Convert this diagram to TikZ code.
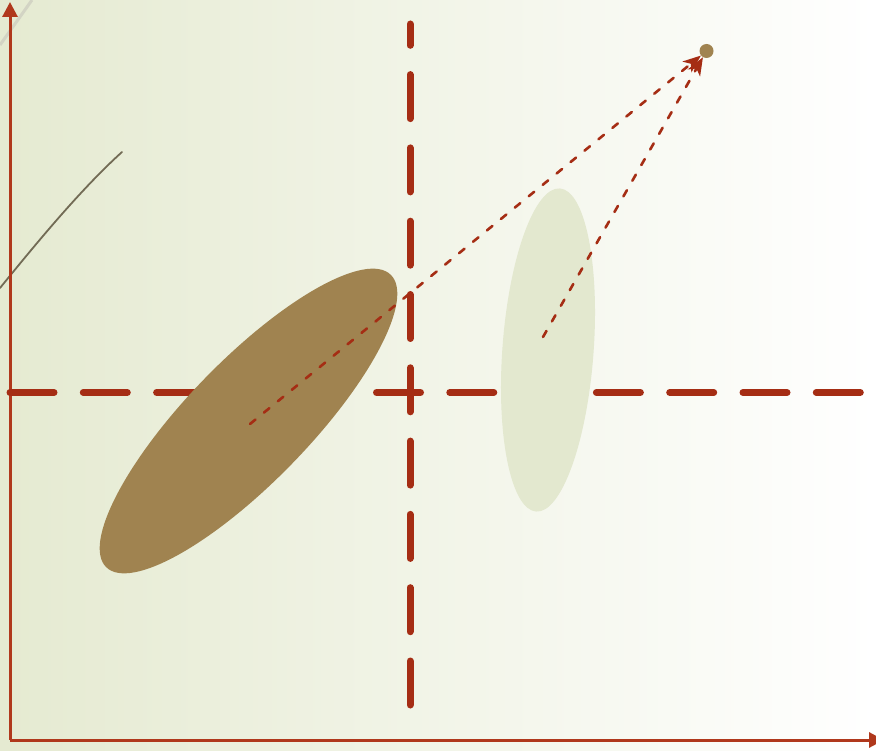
\documentclass[tikz,border=0pt]{standalone}
\usetikzlibrary{arrows.meta}
\definecolor{bgl}{HTML}{E5EAD1}
\definecolor{axred}{HTML}{B0381C}
\definecolor{dred}{HTML}{A52D14}
\definecolor{brownfill}{HTML}{A08350}
\definecolor{palefill}{HTML}{E3E8CF}
\definecolor{curvegray}{HTML}{726B55}
\definecolor{diaggray}{HTML}{D3D4C4}
\begin{document}
\begin{tikzpicture}[x=1pt,y=-1pt,
  axisline/.style={draw=axred, line width=3pt, -{Triangle[length=15pt,width=15pt]}},
  bigdash/.style={draw=dred, line width=7pt, line cap=round, dash pattern=on 44pt off 29.3pt},
  thindash/.style={draw=dred, line width=2.6pt, line cap=round, dash pattern=on 7pt off 11pt, -{Stealth[length=18pt,width=14pt,inset=5pt]}},
  dotnode/.style={circle, fill=brownfill, minimum size=14pt, inner sep=0pt}]
\useasboundingbox (0,0) rectangle (876,751);
\clip (0,0) rectangle (876,751);
\shade[left color=bgl, right color=white] (0,0) rectangle (876,751);
% decorative lines
\coordinate (g1) at (0,45);
\coordinate (g2) at (32,0);
\draw[diaggray, line width=3pt] (g1) -- (g2);
\coordinate (c1) at (0,288);
\coordinate (c2) at (122,152);
\draw[curvegray, line width=1.8pt, line cap=round] (c1) .. controls (35,245) and (80,190) .. (c2);
% axes
\coordinate (o) at (10,740);
\coordinate (ytip) at (10,2);
\coordinate (xtip) at (884,740);
\draw[axisline] (o) -- (ytip);
\draw[axisline] (o) -- (xtip);
% thick dashed lines
\coordinate (vtop) at (410,24);
\coordinate (vbot) at (410,705);
\coordinate (hl) at (10,392.5);
\coordinate (hr) at (861,392.5);
\draw[bigdash] (vbot) -- (vtop);
\draw[bigdash] (hl) -- (hr);
% ellipses
\fill[brownfill, rotate around={45.8:(248.5,421)}] (248.5,421) ellipse [x radius=204pt, y radius=61pt];
\fill[palefill, rotate around={85.8:(548,350)}] (548,350) ellipse [x radius=162pt, y radius=45.6pt];
% target point and arrows
\node[dotnode] (dot) at (706.5,51) {};
\coordinate (s1) at (250,424);
\coordinate (s2) at (543,337);
\draw[thindash] (s1) -- (dot);
\draw[thindash] (s2) -- (dot);
\end{tikzpicture}
\end{document}
